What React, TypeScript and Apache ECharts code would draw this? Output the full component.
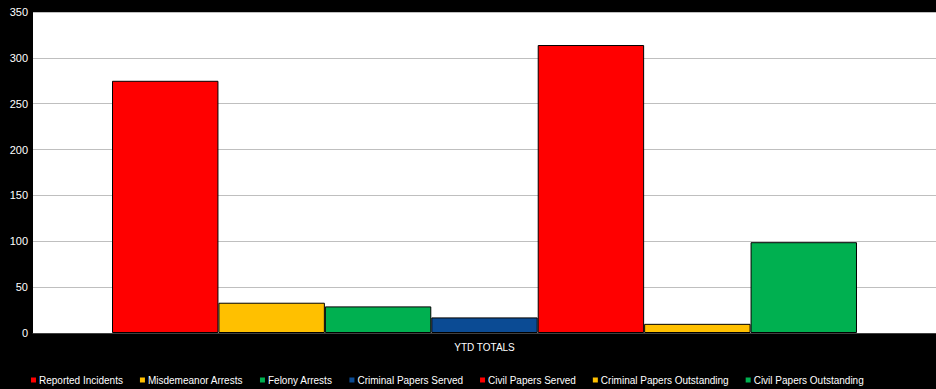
import React, { useEffect, useRef } from "react";
import * as echarts from "echarts";

const categories = ["YTD TOTALS"];
const seriesNames = [
  "Reported Incidents",
  "Misdemeanor Arrests",
  "Felony Arrests",
  "Criminal Papers Served",
  "Civil Papers Served",
  "Criminal Papers Outstanding",
  "Civil Papers Outstanding",
];
const seriesValues = [275, 33, 29, 17, 314, 10, 99];
const seriesColors = ["#ff0000", "#ffc000", "#00b050", "#0b4b94", "#ff0000", "#ffc000", "#00b050"];
const yTicks = { min: 0, max: 350, interval: 50 };

export default function App() {
  const ref = useRef<HTMLDivElement>(null);
  useEffect(() => {
    if (!ref.current) return;
    const chart = echarts.init(ref.current, null, { renderer: "svg" });
    const font = "Liberation Sans, Arial, sans-serif";
    chart.setOption({
      animation: false,
      backgroundColor: "#000000",
      grid: {
        left: 33,
        right: 0,
        top: 12,
        bottom: 56,
        show: true,
        backgroundColor: "#ffffff",
        borderWidth: 0,
      },
      legend: {
        top: 375,
        left: 29,
        itemWidth: 7,
        itemHeight: 7,
        itemGap: 15,
        padding: 0,
        icon: "rect",
        textStyle: { color: "#ffffff", fontSize: 10, fontFamily: font, padding: [0, 0, 0, -3] },
        data: seriesNames,
      },
      xAxis: {
        type: "category",
        data: categories,
        axisLine: { show: true, lineStyle: { color: "#404040", width: 1 } },
        axisTick: { show: false },
        axisLabel: { color: "#ffffff", fontSize: 10, fontFamily: font, margin: 9 },
      },
      yAxis: {
        type: "value",
        min: yTicks.min,
        max: yTicks.max,
        interval: yTicks.interval,
        axisLine: { show: false },
        axisTick: { show: false },
        axisLabel: { color: "#ffffff", fontSize: 11, fontFamily: font, margin: 5 },
        splitLine: { lineStyle: { color: "#bfbfbf", width: 1 } },
      },
      series: seriesNames.map((name, i) => ({
        name,
        type: "bar",
        data: [seriesValues[i]],
        barGap: "0%",
        barCategoryGap: "17.5%",
        itemStyle: { color: seriesColors[i], borderColor: "#000000", borderWidth: 1 },
      })),
    });
    return () => chart.dispose();
  }, []);
  return (
    <div
      ref={ref}
      style={{ position: "fixed", left: 0, top: 0, width: 936, height: 389 }}
    />
  );
}
